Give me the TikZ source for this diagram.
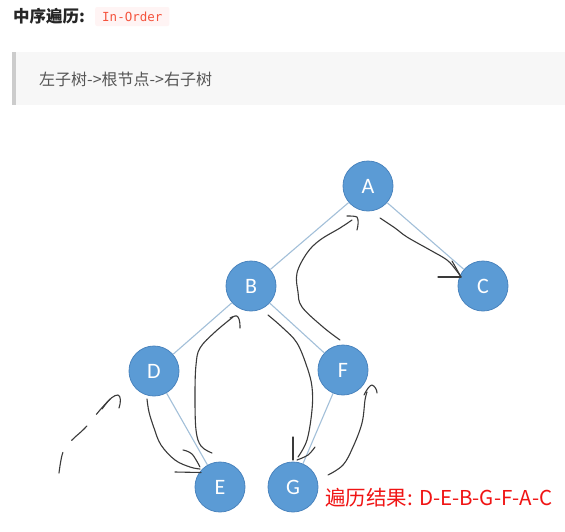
\documentclass[tikz,border=0pt]{standalone}
\usepackage{fontspec}
\setmainfont{Carlito}
\newfontfamily\cjk{Noto Sans CJK SC}
\newfontfamily\codefont{DejaVu Sans Mono}
\definecolor{nodefill}{HTML}{5B9BD5}
\definecolor{nodeline}{HTML}{4A84BE}
\definecolor{edgecol}{HTML}{A3C0D9}
\definecolor{handcol}{HTML}{3A3A3A}
\definecolor{codered}{HTML}{F5533D}
\definecolor{codebg}{HTML}{FFF4F4}
\definecolor{quotebg}{HTML}{F7F7F7}
\definecolor{quotebar}{HTML}{CCCCCC}
\definecolor{quotetext}{HTML}{555555}
\definecolor{resred}{HTML}{F01414}
\tikzset{
  treenode/.style={circle, fill=nodefill, draw=nodeline, line width=0.8pt, minimum size=50pt, inner sep=0pt, text=white, font=\fontsize{22}{22}\selectfont},
  edge/.style={draw=edgecol, line width=1.1pt},
  hand/.style={draw=handcol, line width=1.1pt, line cap=round, line join=round},
}
\begin{document}
\begin{tikzpicture}[x=1pt,y=-1pt]
\useasboundingbox[fill=white] (0,0) rectangle (565,531);
% header
\node[anchor=west, inner sep=0pt, font=\cjk\bfseries\fontsize{16.5}{16.5}\selectfont, text=black!85] (title) at (13,16) {中序遍历:};
\node[anchor=west, fill=codebg, rounded corners=2pt, inner xsep=7pt, minimum height=19pt, text=codered, font=\codefont\fontsize{12.5}{12.5}\selectfont] (code) at (95,16.5) {In-Order};
% quote block
\fill[quotebg] (12,52) rectangle (565,105);
\fill[quotebar] (12,52) rectangle (16,105);
\node[anchor=west, inner sep=0pt, text=quotetext, font=\cjk\fontsize{16}{16}\selectfont] (quote) at (39,79) {左子树->根节点->右子树};
% tree
\node[treenode] (A) at (368,186) {A};
\node[treenode] (B) at (251,286) {B};
\node[treenode] (C) at (483,286) {C};
\node[treenode] (D) at (154,371) {D};
\node[treenode] (F) at (343,370) {F};
\node[treenode] (E) at (220,487) {E};
\node[treenode] (G) at (293,487) {G};
\draw[edge] (A) -- (B);
\draw[edge] (A) -- (C);
\draw[edge] (B) -- (D);
\draw[edge] (B) -- (F);
\draw[edge] (D) -- (E);
\draw[edge] (F) -- (G);
% result
\node[anchor=west, inner sep=0pt, text=resred, font=\cjk\fontsize{20.5}{20.5}\selectfont] (result) at (325,498) {遍历结果: D-E-B-G-F-A-C};
% hand drawn strokes
\draw[hand, dash pattern=on 21pt off 15pt] plot[smooth, tension=0.6] coordinates {(59,473) (63,452) (72,440) (85,428) (100,410) (110,399)};
\draw[hand] (102,409) .. controls (110,398) and (114,395) .. (118,395) .. controls (121,396) and (121,402) .. (119,408);
% D -> E
\draw[hand] plot[smooth, tension=0.6] coordinates {(147,399) (149,412) (154,428) (161,445) (175,460) (190,467) (200,469)};
\draw[hand] (175,472) -- (201,472.5);
\draw[hand] plot[smooth, tension=0.6] coordinates {(183,450) (192,454) (200,467)};
% E -> B
\draw[hand] plot[smooth, tension=0.6] coordinates {(212,453) (201,446) (196,430) (195,395) (196,365) (200,348) (215,332) (233,317)};
\draw[hand] (230,318) .. controls (234,316) and (237,315) .. (238,317) .. controls (240,320) and (240,325) .. (240,328);
% B -> G
\draw[hand] plot[smooth, tension=0.6] coordinates {(268,315) (283,328) (297,343) (307,367) (312,387) (312,410) (307,440) (298,457)};
\draw[hand] (293,437) -- (293,460);
\draw[hand] plot[smooth, tension=0.6] coordinates {(315,447) (308,455) (297,460)};
% G -> F
\draw[hand] plot[smooth, tension=0.6] coordinates {(328,475) (343,465) (353,447) (362,423) (365,400) (367,392)};
\draw[hand] (364,395) .. controls (367,389) and (370,385) .. (372,385) .. controls (375,386) and (377,390) .. (377,393);
% F -> A
\draw[hand] plot[smooth, tension=0.6] coordinates {(340,340) (323,327) (302,307) (298,292) (297,273) (307,253) (320,240) (340,228) (352,220)};
\draw[hand] (347,216) .. controls (351,216) and (355,216) .. (357,217) .. controls (359,220) and (358,226) .. (357,230);
% A -> C
\draw[hand] plot[smooth, tension=0.6] coordinates {(380,218) (395,228) (407,237) (430,250) (447,260) (456,270) (461,277)};
\draw[hand] (438,277) -- (461,277);
\draw[hand] plot[smooth, tension=0.6] coordinates {(452,261) (456,268) (461,277)};
\end{tikzpicture}
\end{document}
